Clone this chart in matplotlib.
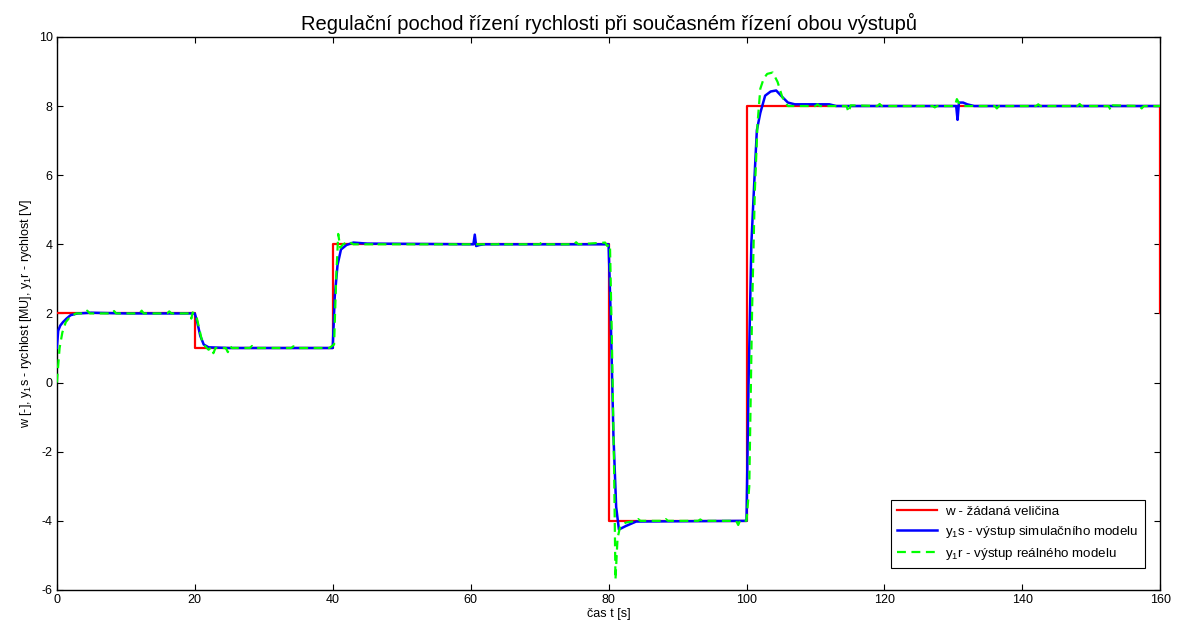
import matplotlib
matplotlib.use("Agg")
import matplotlib.pyplot as plt

# w - setpoint
t_w = [0, 20, 20, 40, 40, 80, 80, 100, 100, 160, 160]
w = [2, 2, 1, 1, 4, 4, -4, -4, 8, 8, 2]

# y1s - simulated model output
t_s = [0, 0.2, 0.5, 0.9, 1.4, 2, 3, 5, 10, 20, 20.3, 20.8, 21.3, 22, 25, 40, 40.3, 40.7,
       41.2, 42, 43, 45, 60.4, 60.6, 60.8, 61.3, 62, 80, 80.3, 80.7, 81.1, 81.5, 82.5, 84,
       100, 100.3, 100.7, 101.1, 101.5, 102, 102.7, 103.5, 104.3, 105, 106, 107, 112, 113,
       130.4, 130.6, 130.8, 131.4, 132, 133, 160]
y_s = [1.0, 1.5, 1.65, 1.75, 1.85, 1.95, 2.0, 2.02, 2.0, 2.0, 1.8, 1.35, 1.1, 1.02, 1.0,
       1.0, 2.5, 3.4, 3.85, 3.98, 4.05, 4.02, 4.0, 4.28, 3.95, 3.98, 4.0, 4.0, 2.0, -1.5,
       -3.6, -4.25, -4.15, -4.02, -4.0, 0.0, 4.0, 5.7, 7.3, 7.8, 8.3, 8.42, 8.45, 8.3, 8.1,
       8.05, 8.05, 8.0, 8.0, 7.6, 8.1, 8.1, 8.05, 8.0, 8.0]

# y1r - real model output
t_r = [0, 0.4, 0.8, 1.3, 2, 2.8, 4, 4.4, 4.8, 8, 8.3, 8.6, 12, 12.3, 12.6, 16, 16.3, 16.6,
       19.3, 19.5, 19.7, 20.2, 20.6, 21, 21.5, 22, 22.4, 22.7, 23, 24.5, 24.8, 25.1, 25.4,
       28, 28.3, 28.6, 34, 34.3, 34.6, 39.5, 40.2, 40.5, 40.8, 41.1, 41.5, 42.3, 43,
       46, 46.3, 46.6, 52, 52.3, 52.6, 58, 58.3, 58.6, 64, 64.3, 64.6, 70, 70.3, 70.6,
       75, 75.3, 75.6, 79.5, 79.8, 80.2, 80.5, 80.8, 81.0, 81.3, 81.7, 82.5, 84, 84.3, 84.6,
       88, 88.3, 88.6, 93, 93.3, 93.6, 98.5, 98.8, 99.1, 100, 100.4, 100.8, 101.2, 101.6,
       102, 102.5, 103, 103.8, 104.5, 105.2, 106, 107, 110, 110.3, 110.6, 114.5, 114.8,
       115.1, 119, 119.3, 119.6, 124, 124.3, 124.6, 127, 127.3, 127.6, 130.2, 130.5, 130.9,
       131.5, 136, 136.3, 136.6, 142, 142.3, 142.6, 148, 148.3, 148.6, 152.5, 152.8, 153.1,
       157, 157.3, 157.6, 160]
y_r = [0.0, 1.0, 1.45, 1.75, 1.92, 2.0, 2.0, 2.08, 2.0, 2.0, 2.07, 2.0, 2.0, 2.08, 2.0,
       2.0, 2.06, 2.0, 2.0, 1.85, 2.03, 1.95, 1.6, 1.25, 1.05, 0.95, 1.02, 0.85, 1.0, 1.0,
       0.88, 1.05, 1.0, 1.0, 1.06, 1.0, 1.0, 1.05, 1.0, 1.0, 1.1, 3.0, 4.3, 3.9, 4.0, 4.08,
       4.0, 4.0, 4.05, 4.0, 4.0, 4.05, 4.0, 4.0, 4.05, 4.0, 4.0, 4.04, 4.0, 4.0, 4.05, 4.0,
       4.0, 4.06, 4.0, 4.05, 3.95, 4.0, 1.0, -2.5, -5.7, -4.5, -4.15, -4.05, -4.0, -3.95,
       -4.0, -4.0, -3.95, -4.0, -4.0, -3.96, -4.0, -4.0, -4.12, -3.97, -4.0, -3.0, 2.0, 5.5,
       7.5, 8.5, 8.8, 8.93, 8.97, 8.7, 8.25, 8.0, 8.0, 8.0, 8.05, 8.0, 8.0, 7.82, 8.02, 8.0,
       8.06, 8.0, 8.0, 8.05, 8.0, 8.0, 7.96, 8.0, 8.0, 8.2, 8.05, 8.0, 8.0, 7.93, 8.0, 8.0,
       8.05, 8.0, 8.0, 8.06, 8.0, 8.0, 7.88, 8.02, 8.0, 7.93, 8.0, 8.0]

plt.rcParams['font.family'] = ['Liberation Sans', 'DejaVu Sans']
plt.rcParams['mathtext.fontset'] = 'custom'
plt.rcParams['mathtext.rm'] = 'Liberation Sans'
plt.rcParams['mathtext.it'] = 'Liberation Sans'
plt.rcParams['mathtext.default'] = 'rm'
plt.rcParams['axes.unicode_minus'] = False

fig = plt.figure(figsize=(11.84, 6.35), dpi=100)
ax = fig.add_axes([0.048, 0.0709, 0.932, 0.871])

ax.plot(t_w, w, color='#ff0000', lw=1.6, zorder=3, label='w - žádaná veličina')
ax.plot(t_s, y_s, color='#0000ff', lw=1.8, zorder=3, label='y$_1$s - výstup simulačního modelu')
ax.plot(t_r, y_r, color='#00ff00', lw=1.6, ls=(0, (4, 2.5)), zorder=3,
        label='y$_1$r - výstup reálného modelu')

ax.set_xlim(0, 160)
ax.set_ylim(-6, 10)
ax.set_xticks(range(0, 161, 20))
ax.set_yticks(range(-6, 11, 2))
ax.tick_params(direction='in', top=True, right=True, labelsize=9, length=4, width=0.8, pad=3)
for s in ax.spines.values():
    s.set_linewidth(1.0)

ax.set_title('Regulační pochod řízení rychlosti při současném řízení obou výstupů', fontsize=14.5, pad=5)
ax.set_xlabel('čas t [s]', fontsize=9, labelpad=1)
ax.set_ylabel('w [-], y$_1$s - rychlost [MU], y$_1$r - rychlost [V]', fontsize=9, labelpad=3)

leg = ax.legend(loc='lower right', fontsize=9.6, fancybox=False, framealpha=1,
                edgecolor='black', handlelength=3.0, handletextpad=0.6, borderpad=0.45,
                labelspacing=0.45, borderaxespad=0, bbox_to_anchor=(0.986, 0.04))
leg.get_frame().set_linewidth(0.8)

fig.savefig('out.png', dpi=100)
